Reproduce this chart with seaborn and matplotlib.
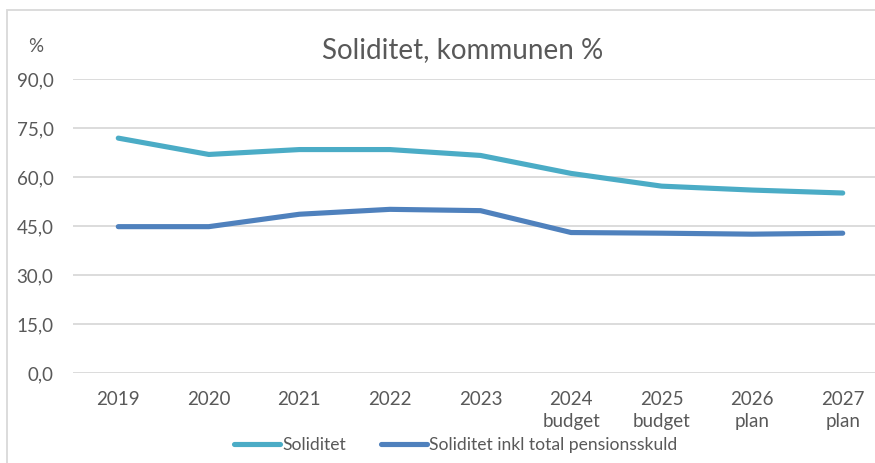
import matplotlib
matplotlib.use('Agg')
import matplotlib.pyplot as plt
import seaborn as sns
import pandas as pd
from matplotlib.patches import Rectangle

# Data
years = ['2019', '2020', '2021', '2022', '2023', '2024\nbudget', '2025\nbudget', '2026\nplan', '2027\nplan']
soliditet = [71.9, 66.9, 68.4, 68.4, 66.6, 61.1, 57.2, 56.0, 55.1]
soliditet_inkl = [44.8, 44.8, 48.6, 50.1, 49.7, 43.0, 42.8, 42.5, 42.8]
series_names = ['Soliditet', 'Soliditet inkl total pensionsskuld']
yticks = [0, 15, 30, 45, 60, 75, 90]

df = pd.DataFrame({
    'x': list(range(len(years))) * 2,
    'value': soliditet + soliditet_inkl,
    'serie': [series_names[0]] * len(years) + [series_names[1]] * len(years),
})

sns.set_theme(style='white')
plt.rcParams['font.family'] = ['Lato', 'DejaVu Sans']

grey = '#595959'
fig = plt.figure(figsize=(8.75, 4.63), dpi=100)
ax = fig.add_axes([73 / 875, 1 - 373 / 463, 815 / 875, 294 / 463])

sns.lineplot(data=df, x='x', y='value', hue='serie',
             palette={series_names[0]: '#4BACC6', series_names[1]: '#4F81BD'},
             linewidth=3.7, solid_capstyle='round', ax=ax, legend=False)

ax.set_xlim(-0.5, len(years) - 0.5)
ax.set_ylim(0, 90)
ax.set_yticks(yticks)
ax.set_yticklabels([f'{v:.1f}'.replace('.', ',') for v in yticks], color=grey, fontsize=13.5)
ax.set_xticks(range(len(years)))
ax.set_xticklabels(years, color=grey, fontsize=13.5, linespacing=1.35)
ax.tick_params(axis='both', length=0)
ax.tick_params(axis='x', pad=13)
ax.tick_params(axis='y', pad=14)
ax.yaxis.grid(True, color='#d9d9d9', linewidth=1.3)
ax.set_axisbelow(True)
for s in ax.spines.values():
    s.set_visible(False)
ax.set_xlabel('')
ax.set_ylabel('')

fig.text(463 / 875, 1 - 50 / 463, 'Soliditet, kommunen %', ha='center', va='center',
         fontsize=20, color=grey)
fig.text(36 / 875, 1 - 47 / 463, '%', ha='center', va='center', fontsize=13.5, color=grey)

# outer chart border (right and bottom fall outside the picture)
fig.patches.append(Rectangle((7 / 875, -0.1), 1.2, 1 - 10 / 463 + 0.1, transform=fig.transFigure,
                             fill=False, edgecolor='#d9d9d9', linewidth=1.3))

handles = [plt.Line2D([], [], color=c, linewidth=3.7, solid_capstyle='round') for c in ['#4BACC6', '#4F81BD']]
fig.legend(handles, series_names, loc='center', bbox_to_anchor=(456 / 875, 1 - 445 / 463),
           ncol=2, frameon=False, fontsize=12.6, labelcolor=grey, handlelength=2.6,
           handletextpad=0.15, columnspacing=2.0)

fig.savefig('out.png', dpi=100)
